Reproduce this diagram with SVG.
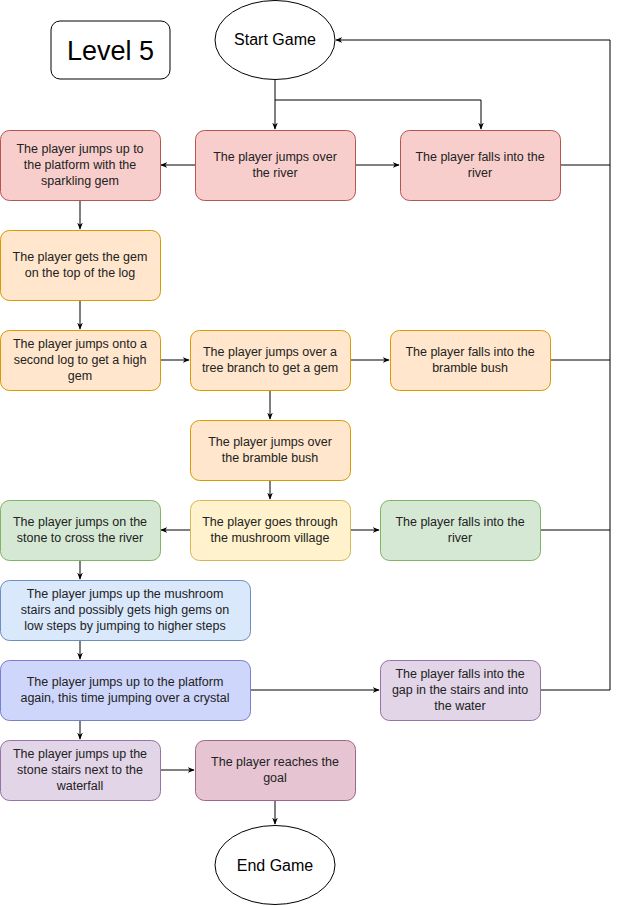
<svg xmlns="http://www.w3.org/2000/svg" width="619" height="906" viewBox="0 0 619 906">
<defs>
<marker id="ah" viewBox="0 0 10 10" refX="9" refY="5" markerWidth="7" markerHeight="7" orient="auto"><path d="M0,1 L10,5 L0,9 L3,5 Z" fill="#000"/></marker>
<style>
text{font-family:"Liberation Sans",Arial,sans-serif;font-size:12.5px;fill:#222;text-anchor:middle}
.c{fill:none;stroke:#000;stroke-width:1}
.a{marker-end:url(#ah)}
.red{fill:#f8cecc;stroke:#b85450}
.org{fill:#ffe6cc;stroke:#d79b00}
.yel{fill:#fff2cc;stroke:#d6b656}
.grn{fill:#d5e8d4;stroke:#82b366}
.blu{fill:#dae8fc;stroke:#6c8ebf}
.ind{fill:#cfd6fb;stroke:#7a7fc8}
.pur{fill:#e1d5e7;stroke:#9673a6}
.mau{fill:#e6c4d2;stroke:#a0668a}
</style>
</defs>
<rect width="619" height="906" fill="#fff"/>
<g id="connectors">
<path class="c a" d="M275,80 V129"/>
<path class="c a" d="M275,100 H481 V129"/>
<path class="c a" d="M195,165 H161"/>
<path class="c a" d="M355,165 H399"/>
<path class="c" d="M560,165 H610"/>
<path class="c a" d="M610,690 V40 H336"/>
<path class="c a" d="M80,200 V229"/>
<path class="c a" d="M80,300 V329"/>
<path class="c a" d="M160,360 H189"/>
<path class="c a" d="M350,360 H389"/>
<path class="c" d="M550,360 H610"/>
<path class="c a" d="M270,390 V419"/>
<path class="c a" d="M270,480 V499"/>
<path class="c a" d="M190,530 H161"/>
<path class="c a" d="M350,530 H379"/>
<path class="c" d="M540,530 H610"/>
<path class="c a" d="M80,560 V579"/>
<path class="c a" d="M80,640 V659"/>
<path class="c a" d="M250,690 H379"/>
<path class="c" d="M540,690 H610"/>
<path class="c a" d="M80,720 V739"/>
<path class="c a" d="M160,770 H194"/>
<path class="c a" d="M275,800 V824"/>
</g>
<g id="level"><rect x="51" y="21" width="119" height="58" rx="9" fill="#fff" stroke="#000"/><text x="110.5" y="60" style="font-size:27px;fill:#000">Level 5</text></g>
<g id="start"><ellipse cx="275" cy="40" rx="60" ry="39.5" fill="#fff" stroke="#000"/><text x="275" y="45" style="font-size:16px;fill:#000">Start Game</text></g>
<g id="n1"><rect class="red" x="0.5" y="130.5" width="160" height="70" rx="9"/><text x="80" y="153">The player jumps up to</text><text x="80" y="169">the platform with the</text><text x="80" y="185">sparkling gem</text></g>
<g id="n2"><rect class="red" x="195.5" y="130.5" width="160" height="70" rx="9"/><text x="275" y="161">The player jumps over</text><text x="275" y="177">the river</text></g>
<g id="n3"><rect class="red" x="400.5" y="130.5" width="160" height="70" rx="9"/><text x="480" y="161">The player falls into the</text><text x="480" y="177">river</text></g>
<g id="n4"><rect class="org" x="0.5" y="230.5" width="160" height="70" rx="9"/><text x="80" y="261">The player gets the gem</text><text x="80" y="277">on the top of the log</text></g>
<g id="n5"><rect class="org" x="0.5" y="330.5" width="160" height="60" rx="9"/><text x="80" y="348">The player jumps onto a</text><text x="80" y="364">second log to get a high</text><text x="80" y="380">gem</text></g>
<g id="n6"><rect class="org" x="190.5" y="330.5" width="160" height="60" rx="9"/><text x="270" y="356">The player jumps over a</text><text x="270" y="372">tree branch to get a gem</text></g>
<g id="n7"><rect class="org" x="390.5" y="330.5" width="160" height="60" rx="9"/><text x="470" y="356">The player falls into the</text><text x="470" y="372">bramble bush</text></g>
<g id="n8"><rect class="org" x="190.5" y="420.5" width="160" height="60" rx="9"/><text x="270" y="446">The player jumps over</text><text x="270" y="462">the bramble bush</text></g>
<g id="n9"><rect class="yel" x="190.5" y="500.5" width="160" height="60" rx="9"/><text x="270" y="526">The player goes through</text><text x="270" y="542">the mushroom village</text></g>
<g id="n10"><rect class="grn" x="0.5" y="500.5" width="160" height="60" rx="9"/><text x="80" y="526">The player jumps on the</text><text x="80" y="542">stone to cross the river</text></g>
<g id="n11"><rect class="grn" x="380.5" y="500.5" width="160" height="60" rx="9"/><text x="460" y="526">The player falls into the</text><text x="460" y="542">river</text></g>
<g id="n12"><rect class="blu" x="0.5" y="580.5" width="250" height="60" rx="9"/><text x="125" y="598">The player jumps up the mushroom</text><text x="125" y="614">stairs and possibly gets high gems on</text><text x="125" y="630">low steps by jumping to higher steps</text></g>
<g id="n13"><rect class="ind" x="0.5" y="660.5" width="250" height="60" rx="9"/><text x="125" y="686">The player jumps up to the platform</text><text x="125" y="702">again, this time jumping over a crystal</text><text x="125" y="718" style="display:none"></text><text x="125" y="710" style="display:none"></text></g>
<g id="n14"><rect class="pur" x="380.5" y="660.5" width="160" height="60" rx="9"/><text x="460" y="678">The player falls into the</text><text x="460" y="694">gap in the stairs and into</text><text x="460" y="710">the water</text></g>
<g id="n15"><rect class="pur" x="0.5" y="740.5" width="160" height="60" rx="9"/><text x="80" y="758">The player jumps up the</text><text x="80" y="774">stone stairs next to the</text><text x="80" y="790">waterfall</text></g>
<g id="n16"><rect class="mau" x="195.5" y="740.5" width="160" height="60" rx="9"/><text x="275" y="766">The player reaches the</text><text x="275" y="782">goal</text></g>
<g id="end"><ellipse cx="275" cy="865" rx="60" ry="39.5" fill="#fff" stroke="#000"/><text x="275" y="871" style="font-size:16px;fill:#000">End Game</text></g>
</svg>
